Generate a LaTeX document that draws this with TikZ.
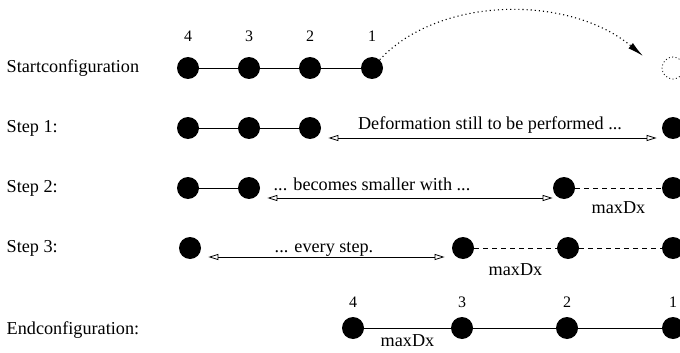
\documentclass[tikz,border=0pt]{standalone}
\usepackage{fontspec}
\setmainfont{Liberation Serif}
\usetikzlibrary{arrows.meta}

\begin{document}
\begin{tikzpicture}[x=1pt, y=-1pt, line width=0.8pt,
	bead/.style={circle, fill, inner sep=0pt, minimum size=22pt},
	ghost/.style={circle, draw, dash pattern=on 1pt off 2.4pt, inner sep=0pt, minimum size=22pt},
	rowname/.style={anchor=west, font=\fontsize{18.2}{21}\selectfont},
	txt/.style={anchor=base, font=\fontsize{18.2}{21}\selectfont},
	num/.style={font=\fontsize{16}{19}\selectfont},
	span/.style={{Triangle[open,length=10pt,width=6pt]}-{Triangle[open,length=10pt,width=6pt]}},
	gap/.style={dash pattern=on 5pt off 4pt}]

	\useasboundingbox (0,0) rectangle (680,353);

	\def \ya {68}
	\def \yb {128}
	\def \yc {188}
	\def \yd {248}
	\def \ye {328}

	% row names
	\node[rowname] (lstart) at (3,\ya) {Startconfiguration};
	\node[rowname] (lone) at (3,\yb) {Step 1:};
	\node[rowname] (ltwo) at (3,\yc) {Step 2:};
	\node[rowname] (lthree) at (3,\yd) {Step 3:};
	\node[rowname] (lend) at (3,{\ye+2}) {Endconfiguration:};

	% start
	\foreach \n/\x in {4/188,3/249,2/310,1/372}
	{
		\node[bead, label={[num, label distance=11pt]above:\n}] (s\n) at (\x,\ya) {};
	}
	\draw (s4) -- (s3) -- (s2) -- (s1);
	\node[ghost] (goal) at (673,\ya) {};
	\coordinate (tip) at (643,56);
	\draw[line width=1.1pt, dash pattern=on 1.1pt off 3pt, -{Latex[length=16pt,width=7pt]}]
		(s1) .. controls (440,-5) and (570,-5) .. (tip);

	% step 1
	\foreach \n/\x in {4/188,3/249,2/310,1/673}
	{
		\node[bead] (a\n) at (\x,\yb) {};
	}
	\draw (a4) -- (a3) -- (a2);
	\draw[span] ([shift={(7,10)}]a2.east) -- ([shift={(-5,10)}]a1.west);
	\node[txt] (tone) at (490,{\yb+1}) {Deformation still to be performed ...};

	% step 2
	\foreach \n/\x in {4/188,3/249,2/564,1/673}
	{
		\node[bead] (b\n) at (\x,\yc) {};
	}
	\draw (b4) -- (b3);
	\draw[span] ([shift={(7,10)}]b3.east) -- ([shift={(0,10)}]b2.west);
	\node[txt] (ttwo) at (372,{\yc+2}) {... becomes smaller with ...};
	\draw[gap] (b2) -- (b1) node[midway, below=10pt, txt, anchor=north] {maxDx};

	% step 3
	\foreach \n/\x in {4/190,3/463,2/568,1/673}
	{
		\node[bead] (c\n) at (\x,\yd) {};
	}
	\draw[span] ([shift={(7,9)}]c4.east) -- ([shift={(-7,9)}]c3.west);
	\node[txt] (tthree) at (324,{\yd+4}) {... every step.};
	\draw[gap] (c3) -- (c2) node[midway, below=12pt, txt, anchor=north] {maxDx};
	\draw[gap] (c2) -- (c1);

	% end
	\foreach \n/\x in {4/353,3/462,2/567,1/673}
	{
		\node[bead, label={[num, label distance=5pt]above:\n}] (e\n) at (\x,\ye) {};
	}
	\draw (e4) -- (e3) node[midway, below=4.5pt, txt, anchor=north, inner sep=2pt] {maxDx};
	\draw (e3) -- (e2) -- (e1);

\end{tikzpicture}
\end{document}
